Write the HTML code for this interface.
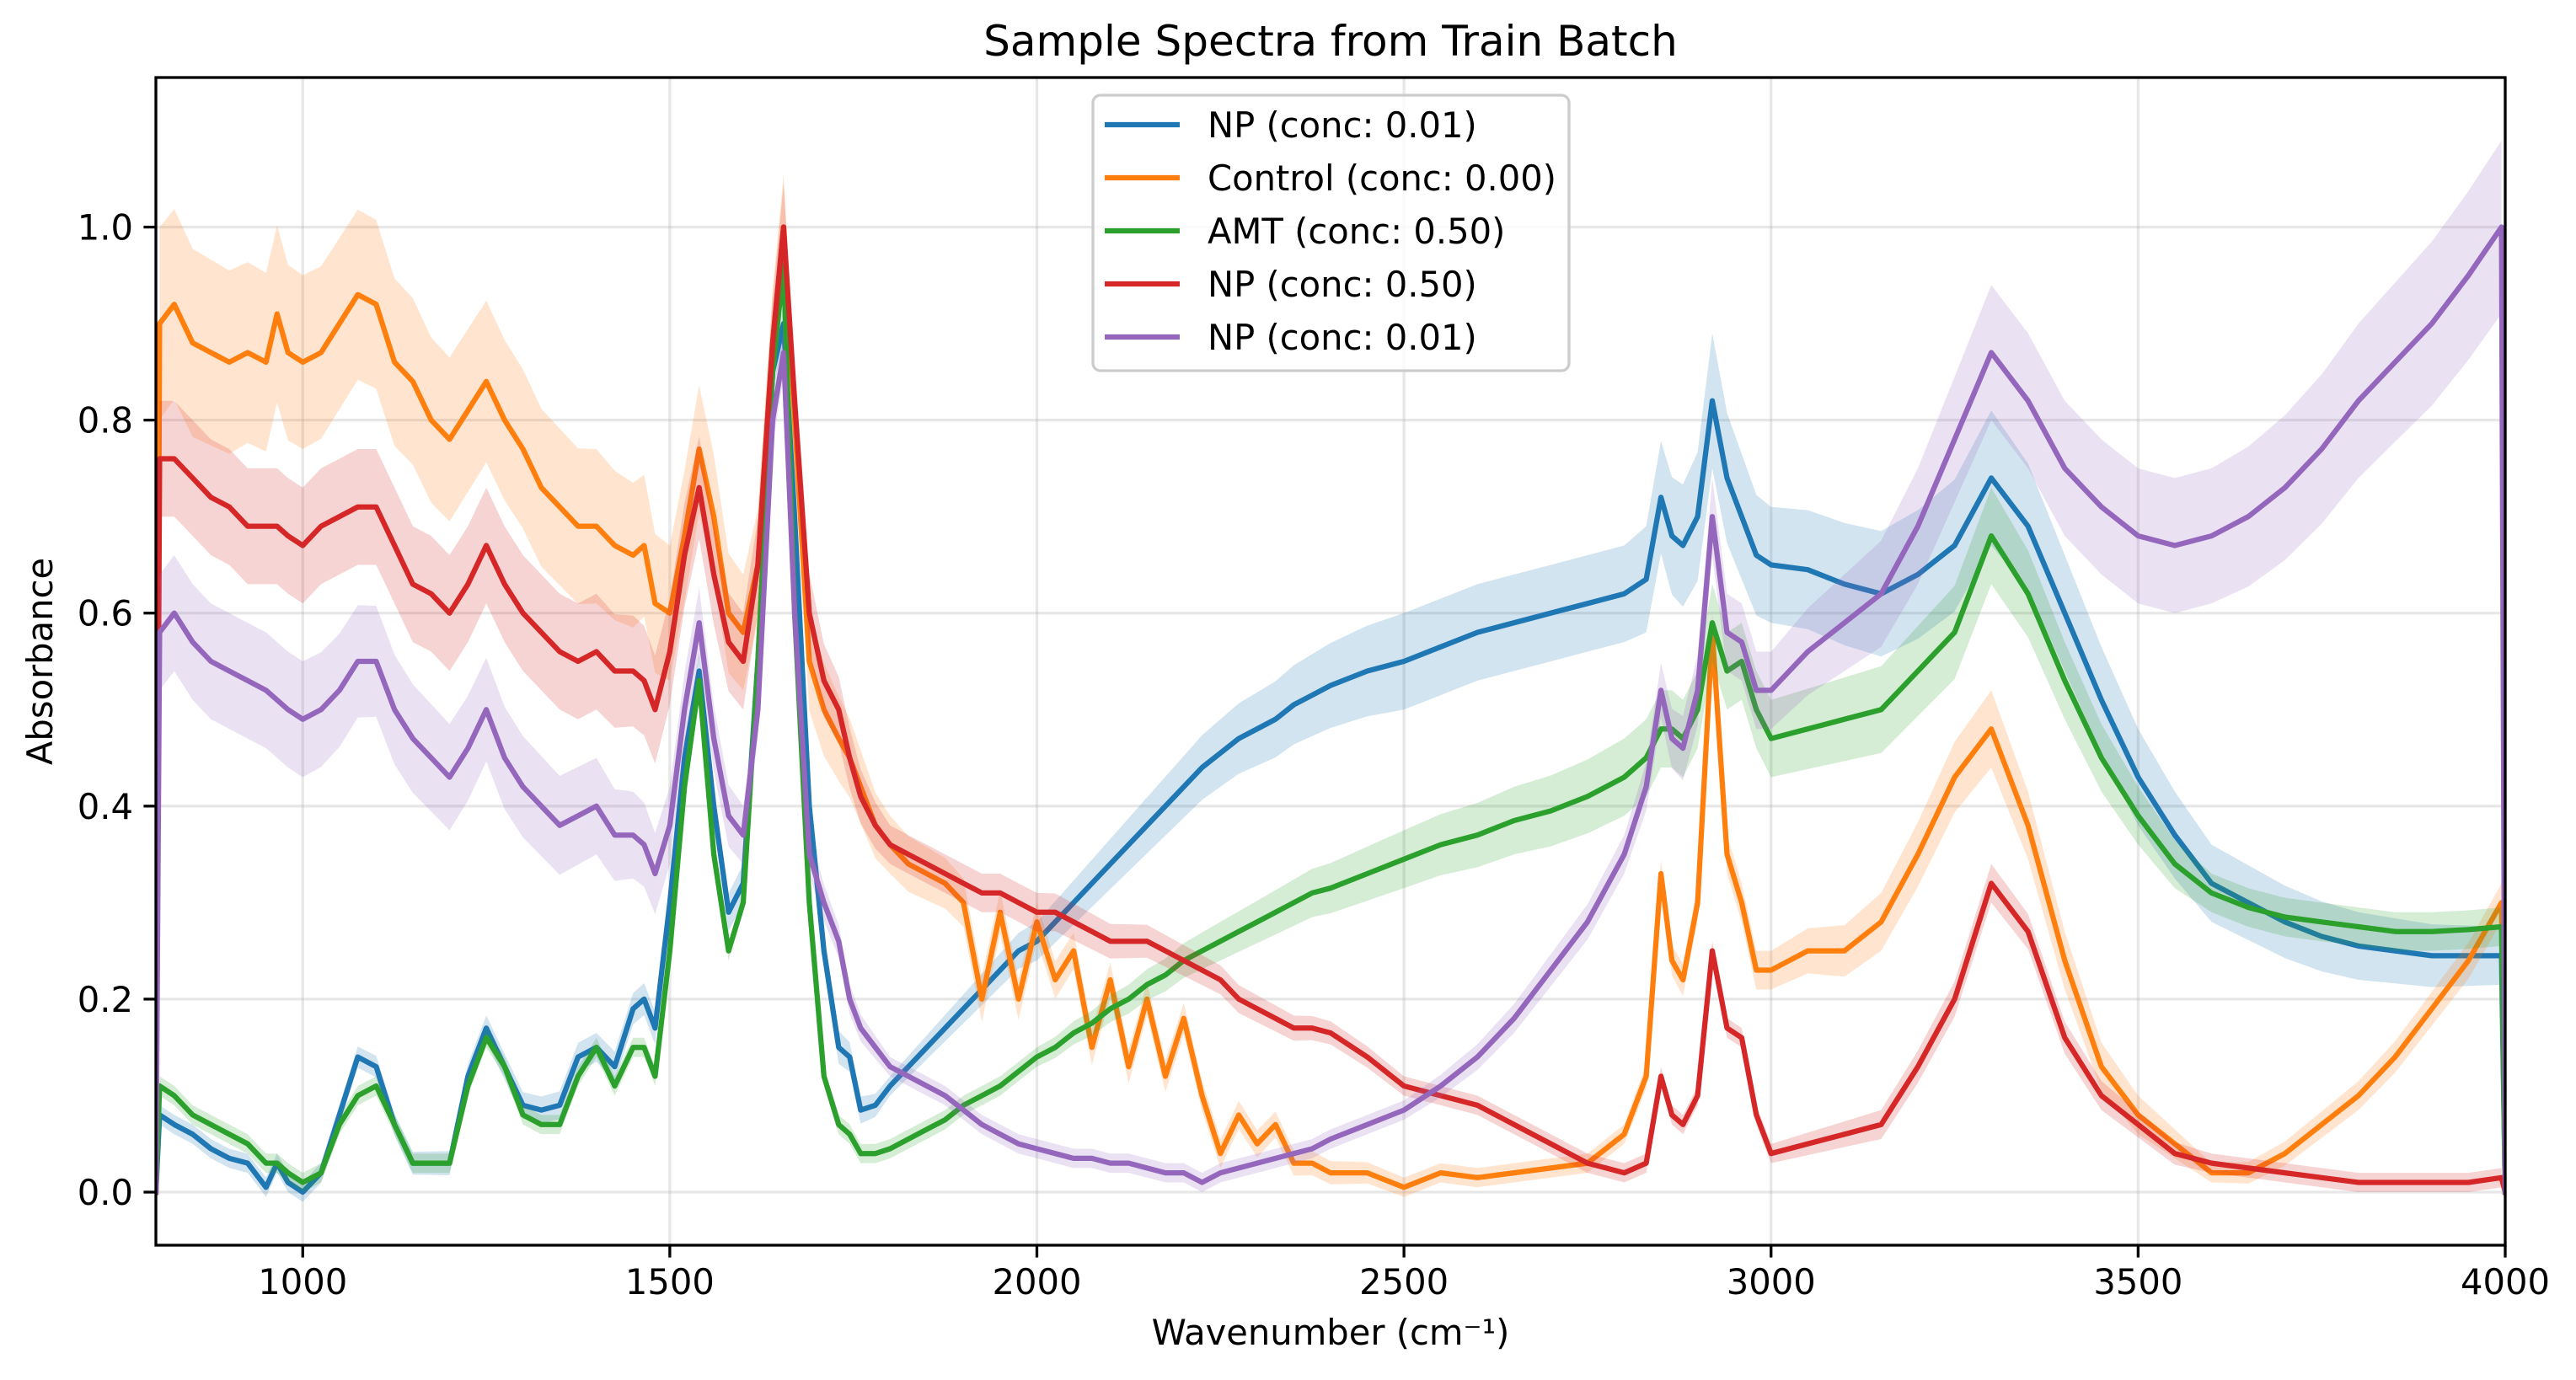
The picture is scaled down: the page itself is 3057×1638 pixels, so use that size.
<!DOCTYPE html>
<html><head><meta charset="utf-8"><title>Sample Spectra from Train Batch</title>
<style>
html,body{margin:0;padding:0;background:#fff;}
svg{display:block;font-family:"DejaVu Sans","Liberation Sans",sans-serif;}
</style></head>
<body>
<svg id="chart" width="3057" height="1638" viewBox="0 0 3057 1638" xmlns="http://www.w3.org/2000/svg">
<defs><clipPath id="plotclip"><rect x="185" y="92" width="2788" height="1386"/></clipPath></defs>
<rect width="3057" height="1638" fill="#fff"/>
<g id="grid"></g>
<g id="series" clip-path="url(#plotclip)"></g>
<g id="axes"></g>
<text x="1579" y="66" font-size="50" text-anchor="middle">Sample Spectra from Train Batch</text>
<text x="1579" y="1596" font-size="41.67" text-anchor="middle">Wavenumber (cm⁻¹)</text>
<text x="0" y="0" font-size="41.67" text-anchor="middle" transform="translate(62,785) rotate(-90)">Absorbance</text>
<g id="legend"></g>
</svg>
<script>
const wavenumbers=[800,805,825,850,875,900,925,950,965,980,1000,1025,1050,1075,1100,1125,1150,1175,1200,1225,1250,1275,1300,1325,1350,1375,1400,1425,1450,1465,1480,1500,1520,1540,1560,1580,1600,1620,1640,1655,1670,1690,1710,1730,1745,1760,1780,1800,1825,1850,1875,1900,1925,1950,1975,2000,2025,2050,2075,2100,2125,2150,2175,2200,2225,2250,2275,2300,2325,2350,2375,2400,2450,2500,2550,2600,2650,2700,2750,2800,2830,2850,2865,2880,2900,2920,2940,2960,2980,3000,3050,3100,3150,3200,3250,3300,3350,3400,3450,3500,3550,3600,3650,3700,3750,3800,3850,3900,3950,3995,4000];
const seriesLabels=["NP (conc: 0.01)","Control (conc: 0.00)","AMT (conc: 0.50)","NP (conc: 0.50)","NP (conc: 0.01)"];
const npLow=[0,.08,.07,.06,.045,.035,.03,.005,.03,.01,0,.02,.08,.14,.13,.07,.03,.03,.03,.12,.17,.13,.09,.085,.09,.14,.15,.13,.19,.2,.17,.3,.45,.54,.4,.29,.32,.55,.85,.9,.7,.4,.25,.15,.14,.085,.09,.11,.13,.15,.17,.19,.21,.23,.25,.26,.28,.3,.32,.34,.36,.38,.4,.42,.44,.455,.47,.48,.49,.505,.515,.525,.54,.55,.565,.58,.59,.6,.61,.62,.635,.72,.68,.67,.7,.82,.74,.7,.66,.65,.645,.63,.62,.64,.67,.74,.69,.6,.51,.43,.37,.32,.3,.28,.265,.255,.25,.245,.245,.245,0];
const control=[0,.9,.92,.88,.87,.86,.87,.86,.91,.87,.86,.87,.9,.93,.92,.86,.84,.8,.78,.81,.84,.8,.77,.73,.71,.69,.69,.67,.66,.67,.61,.6,.68,.77,.7,.6,.58,.65,.88,1.0,.8,.55,.5,.47,.45,.42,.38,.36,.34,.33,.32,.3,.2,.29,.2,.28,.22,.25,.15,.22,.13,.2,.12,.18,.1,.04,.08,.05,.07,.03,.03,.02,.02,.005,.02,.015,.02,.025,.03,.06,.12,.33,.24,.22,.3,.58,.35,.3,.23,.23,.25,.25,.28,.35,.43,.48,.38,.24,.13,.08,.05,.02,.02,.04,.07,.1,.14,.19,.24,.3,0];
const amt=[0,.11,.1,.08,.07,.06,.05,.03,.03,.02,.01,.02,.07,.1,.11,.07,.03,.03,.03,.11,.16,.13,.08,.07,.07,.12,.15,.11,.15,.15,.12,.25,.42,.53,.35,.25,.3,.55,.85,.96,.6,.3,.12,.07,.06,.04,.04,.045,.055,.065,.075,.09,.1,.11,.125,.14,.15,.165,.175,.19,.2,.215,.225,.24,.25,.26,.27,.28,.29,.3,.31,.315,.33,.345,.36,.37,.385,.395,.41,.43,.45,.48,.48,.47,.5,.59,.54,.55,.5,.47,.48,.49,.5,.54,.58,.68,.62,.53,.45,.39,.34,.31,.295,.285,.28,.275,.27,.27,.272,.275,0];
const npHigh=[0,.76,.76,.74,.72,.71,.69,.69,.69,.68,.67,.69,.7,.71,.71,.67,.63,.62,.6,.63,.67,.63,.6,.58,.56,.55,.56,.54,.54,.53,.5,.56,.66,.73,.64,.57,.55,.65,.88,1.0,.82,.6,.53,.5,.45,.41,.38,.36,.35,.34,.33,.32,.31,.31,.3,.29,.29,.28,.27,.26,.26,.26,.25,.24,.23,.22,.2,.19,.18,.17,.17,.165,.14,.11,.1,.09,.07,.05,.03,.02,.03,.12,.08,.07,.1,.25,.17,.16,.08,.04,.05,.06,.07,.13,.2,.32,.27,.16,.1,.07,.04,.03,.025,.02,.015,.01,.01,.01,.01,.015,0];
const npLow2=[0,.58,.6,.57,.55,.54,.53,.52,.51,.5,.49,.5,.52,.55,.55,.5,.47,.45,.43,.46,.5,.45,.42,.4,.38,.39,.4,.37,.37,.36,.33,.38,.5,.59,.47,.39,.37,.5,.8,.87,.6,.35,.3,.26,.2,.17,.15,.13,.12,.11,.1,.085,.07,.06,.05,.045,.04,.035,.035,.03,.03,.025,.02,.02,.01,.02,.025,.03,.035,.04,.045,.055,.07,.085,.11,.14,.18,.23,.28,.35,.42,.52,.47,.46,.52,.7,.58,.57,.52,.52,.56,.59,.62,.69,.78,.87,.82,.75,.71,.68,.67,.68,.7,.73,.77,.82,.86,.9,.95,1.0,0];
const stdGrid=[800,1000,1400,1600,1700,1800,2000,2500,2800,2920,3000,3300,3600,4000];
const npLowStd=[.01,.01,.015,.02,.02,.01,.02,.05,.05,.07,.06,.07,.04,.03];
const controlStd=[.1,.09,.08,.06,.05,.03,.02,.01,.01,.02,.02,.04,.01,.02];
const amtStd=[.01,.01,.01,.01,.01,.01,.01,.03,.04,.04,.04,.05,.02,.02];
const npHighStd=[.06,.06,.06,.05,.04,.02,.02,.01,.01,.01,.01,.02,.01,.01];
const npLow2Std=[.06,.06,.05,.03,.02,.01,.01,.01,.02,.04,.04,.07,.07,.09];
const xTicks=[1000,1500,2000,2500,3000,3500,4000];
const yTicks=[0,0.2,0.4,0.6,0.8,1.0];
const yTickLabels=["0.0","0.2","0.4","0.6","0.8","1.0"];

const NS="http://www.w3.org/2000/svg";
const X0=185,X1=2973,Y0=92,Y1=1478;
const xMin=800,xMax=4000,yMin=-0.055,yMax=1.155;
function xs(v){return X0+(v-xMin)/(xMax-xMin)*(X1-X0);}
function ys(v){return Y1-(v-yMin)/(yMax-yMin)*(Y1-Y0);}
function mk(tag,attrs,parent){const e=document.createElementNS(NS,tag);for(const k in attrs)e.setAttribute(k,attrs[k]);parent.appendChild(e);return e;}
function stdAt(w,arr){for(let i=0;i<stdGrid.length-1;i++){if(w<=stdGrid[i+1]){const t=(w-stdGrid[i])/(stdGrid[i+1]-stdGrid[i]);return arr[i]+t*(arr[i+1]-arr[i]);}}return arr[arr.length-1];}

const grid=document.getElementById('grid');
xTicks.forEach(t=>{const l=mk('line',{x1:xs(t),x2:xs(t),y1:Y0,y2:Y1,stroke:'#b0b0b0','stroke-opacity':0.3,'stroke-width':3.3},grid);

});
yTicks.forEach(t=>{const l=mk('line',{x1:X0,x2:X1,y1:ys(t),y2:ys(t),stroke:'#b0b0b0','stroke-opacity':0.3,'stroke-width':3.3},grid);

});

const colors=['#1f77b4','#ff7f0e','#2ca02c','#d62728','#9467bd'];
const allY=[npLow,control,amt,npHigh,npLow2];
const allStd=[npLowStd,controlStd,amtStd,npHighStd,npLow2Std];
const names=['np-001','control-000','amt-050','np-050','np-001-b'];
const sg=document.getElementById('series');
allY.forEach((ys_,si)=>{
  const st=allStd[si];
  let up=[],dn=[];
  wavenumbers.forEach((w,i)=>{
    if(i===0||i===wavenumbers.length-1)return;
    const s=stdAt(w,st);
    up.push(xs(w).toFixed(1)+','+ys(ys_[i]+s).toFixed(1));
    dn.unshift(xs(w).toFixed(1)+','+ys(ys_[i]-s).toFixed(1));
  });
  const band=mk('path',{d:'M'+up.join('L')+'L'+dn.join('L')+'Z',fill:colors[si],'fill-opacity':0.2,stroke:'none'},sg);
  
  
  const d='M'+wavenumbers.map((w,i)=>xs(w).toFixed(1)+','+ys(ys_[i]).toFixed(1)).join('L');
  const line=mk('path',{d:d,fill:'none',stroke:colors[si],'stroke-width':6.25,'stroke-linejoin':'round','stroke-linecap':'square'},sg);
  
  
});

const ax=document.getElementById('axes');
const frame=mk('rect',{x:X0,y:Y0,width:X1-X0,height:Y1-Y0,fill:'none',stroke:'#000','stroke-width':3.3},ax);


xTicks.forEach(t=>{
  const tk=mk('line',{x1:xs(t),x2:xs(t),y1:Y1,y2:Y1+14.6,stroke:'#000','stroke-width':3.3},ax);
  
  
  const lb=mk('text',{x:xs(t),y:Y1+58,'font-size':41.67,'text-anchor':'middle'},ax);
  lb.textContent=String(t);
  
  
});
yTicks.forEach((t,i)=>{
  const tk=mk('line',{x1:X0-14.6,x2:X0,y1:ys(t),y2:ys(t),stroke:'#000','stroke-width':3.3},ax);
  
  
  const lb=mk('text',{x:X0-27,y:ys(t)+15,'font-size':41.67,'text-anchor':'end'},ax);
  lb.textContent=yTickLabels[i];
  
  
});

const lg=document.getElementById('legend');
const box=mk('rect',{x:1297,y:113,width:565,height:327,rx:9,fill:'#fff','fill-opacity':0.8,stroke:'#cccccc','stroke-width':3.3},lg);


seriesLabels.forEach((lab,i)=>{
  const y=148+63*i;
  const h=mk('line',{x1:1311,x2:1400,y1:y,y2:y,stroke:colors[i],'stroke-width':6.25},lg);
  
  
  const t=mk('text',{x:1433,y:y+15,'font-size':41.67},lg);
  t.textContent=lab;
  
  
});
</script>
</body></html>
